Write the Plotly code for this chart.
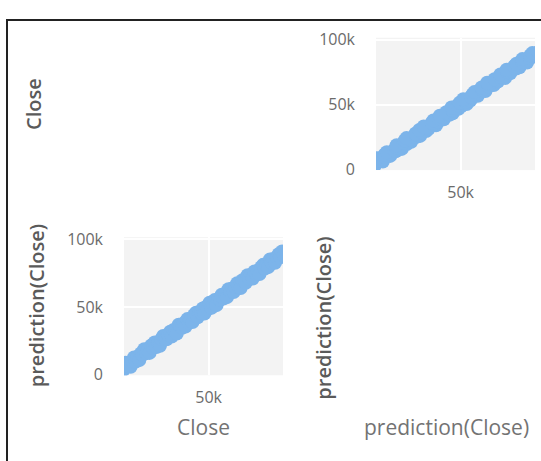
import plotly.graph_objects as go

# Observed closing prices and the model's predicted closing prices
close = [
    2600, 3400, 4300, 5100, 6200, 7000, 7900, 8800, 9700, 10600,
    11500, 12300, 13400, 14200, 15100, 16000, 17100, 17900, 18800, 19700,
    20600, 21500, 22400, 23300, 24300, 25100, 26000, 27000, 27800, 28700,
    29700, 30500, 31500, 32400, 33200, 34200, 35100, 36000, 36900, 37800,
    38800, 39600, 40500, 41500, 42300, 43300, 44200, 45100, 46000, 46900,
    47800, 48800, 49600, 50500, 51500, 52300, 53200, 54200, 55100, 56000,
    56900, 57800, 58700, 59700, 60500, 61500, 62400, 63200, 64200, 65100,
    66000, 66900, 67900, 68700, 69600, 70600, 71500, 72300, 73300, 74200,
    75100, 76000, 76900, 77800, 78800, 79700, 80500, 81500, 82400, 83300,
    84200, 85100, 86100, 87000, 87900, 88800, 89700, 90500,
]
prediction = [
    4400, 1300, 4900, 3700, 8900, 6500, 9000, 6000, 10000, 12800,
    9800, 13200, 11000, 15700, 14900, 18900, 16000, 18300, 16200, 21600,
    19800, 23900, 20500, 23400, 21400, 26400, 28600, 26300, 26200, 29500,
    31800, 28200, 33100, 32000, 30500, 37000, 35600, 34700, 38100, 35600,
    41100, 38700, 40700, 39000, 44000, 45800, 42400, 45800, 45700, 48900,
    45200, 50200, 48600, 53200, 49500, 52700, 55100, 51400, 56000, 55400,
    59100, 56300, 59700, 57300, 63100, 61400, 63700, 61100, 64800, 67500,
    64800, 64000, 69700, 69000, 67900, 73500, 70800, 73400, 71000, 76200,
    74700, 76800, 74300, 79300, 81100, 78300, 80700, 79500, 85100, 82400,
    85400, 82600, 86600, 88900, 86800, 90900, 87900, 91100,
]
dim_labels = ["Close", "prediction(Close)"]

W, H = 541, 461
FONT = "Open Sans, Noto Sans, sans-serif"
DOT = "#7cb4ea"
TICK = "#6b6b6b"


def px_x(p):
    return p / W


def px_y(p):
    return 1 - p / H


fig = go.Figure()

# lower-left cell: Close (x) vs prediction(Close) (y)
fig.add_trace(go.Scatter(
    x=close, y=prediction, mode="markers", xaxis="x", yaxis="y",
    marker=dict(size=14, color=DOT, line=dict(width=0)),
    showlegend=False, hoverinfo="skip",
))
# upper-right cell: prediction(Close) (x) vs Close (y)
fig.add_trace(go.Scatter(
    x=prediction, y=close, mode="markers", xaxis="x2", yaxis="y2",
    marker=dict(size=14, color=DOT, line=dict(width=0)),
    showlegend=False, hoverinfo="skip",
))

x_range = [5300, 89300]
y_range = [-300, 101500]

common = dict(
    showgrid=True, gridcolor="white", gridwidth=2, zeroline=False,
    showline=False, ticks="", dtick=50000,
    tickfont=dict(family=FONT, size=16, color=TICK),
)

fig.update_layout(
    width=W, height=H,
    margin=dict(l=0, r=0, t=0, b=0),
    paper_bgcolor="white", plot_bgcolor="#f3f3f3",
    xaxis=dict(domain=[px_x(124), px_x(283)], anchor="y", range=x_range,
               ticklabelstandoff=11, **common),
    yaxis=dict(domain=[px_y(382), px_y(238)], anchor="x", range=y_range,
               ticklabelstandoff=20, **common),
    xaxis2=dict(domain=[px_x(376), px_x(535)], anchor="y2", range=x_range,
                ticklabelstandoff=11, **common),
    yaxis2=dict(domain=[px_y(168), px_y(30)], anchor="x2", range=y_range,
                ticklabelstandoff=20, **common),
)

# dimension titles
ytitle_font = dict(family=FONT, size=20, color="#5a5a5a", weight=600)
xtitle_font = dict(family=FONT, size=21, color="#737373")
titles = [
    (dim_labels[0], 34, 99, -90, ytitle_font),
    (dim_labels[1], 36, 310, -90, ytitle_font),
    (dim_labels[1], 324, 323, -90, ytitle_font),
    (dim_labels[0], 203, 436, 0, xtitle_font),
    (dim_labels[1], 446, 436, 0, xtitle_font),
]
for text, cx, cy, ang, f in titles:
    fig.add_annotation(
        text=text, x=px_x(cx), y=px_y(cy), xref="paper", yref="paper",
        textangle=ang, xanchor="center", yanchor="middle",
        showarrow=False, font=f,
    )

# outer frame of the panel
fig.add_shape(
    type="rect", xref="paper", yref="paper",
    x0=px_x(7), y0=-0.1, x1=1.1, y1=px_y(11.5),
    line=dict(color="#222222", width=2), fillcolor="rgba(0,0,0,0)",
)

fig.write_html("out.html")
